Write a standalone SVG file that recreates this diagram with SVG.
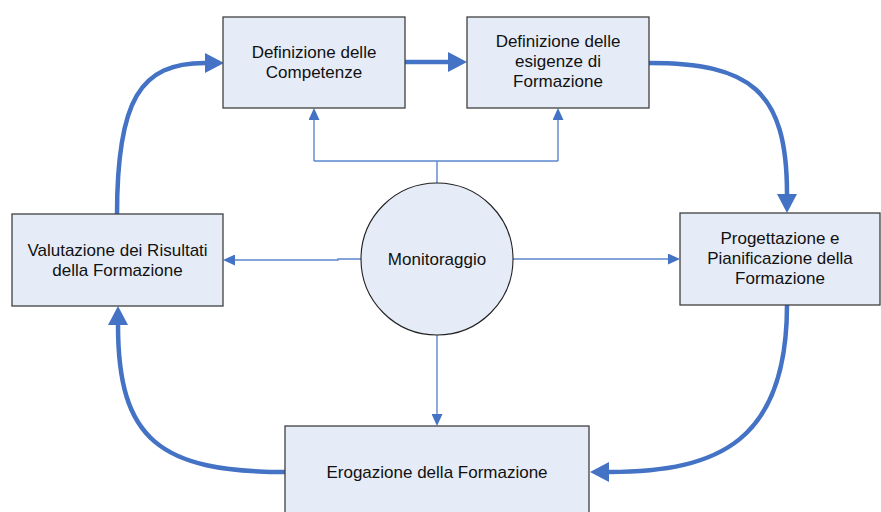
<svg xmlns="http://www.w3.org/2000/svg" width="881" height="512" viewBox="0 0 881 512">
  <defs>
    <style>
      .box { fill: #E6ECF7; stroke: #404040; stroke-width: 1.3; }
      .hub { fill: #E6ECF7; stroke: #202020; stroke-width: 1.1; }
      .lbl { font-family: "Liberation Sans", Arial, sans-serif; font-size: 17px; fill: #111111; text-anchor: middle; }
      .flow { fill: none; stroke: #4472C4; stroke-width: 4.5; }
      .mon { fill: none; stroke: #5B86CC; stroke-width: 1.4; }
    </style>
    <marker id="bigHead" markerUnits="userSpaceOnUse" markerWidth="19" markerHeight="20" viewBox="0 0 19 20" refX="0" refY="10" orient="auto">
      <path d="M0,0 L19,10 L0,20 z" fill="#4472C4"/>
    </marker>
    <marker id="smallHead" markerUnits="userSpaceOnUse" markerWidth="12" markerHeight="11" viewBox="0 0 12 11" refX="0" refY="5.5" orient="auto">
      <path d="M0,0 L12,5.5 L0,11 z" fill="#4472C4"/>
    </marker>
  </defs>

  <rect width="881" height="512" fill="#FFFFFF"/>

  <!-- connectors -->
  <g id="connectors">
    <!-- main cycle -->
    <path class="flow" d="M405,62 L448,62" marker-end="url(#bigHead)"/>
    <path class="flow" d="M649,63 C750,63 787,90 787,194" marker-end="url(#bigHead)"/>
    <path class="flow" d="M787,305 C787,440 720,472 609,472" marker-end="url(#bigHead)"/>
    <path class="flow" d="M286,472 C160,472 118,440 118,325" marker-end="url(#bigHead)"/>
    <path class="flow" d="M117,215 C117,100 140,63 205,63" marker-end="url(#bigHead)"/>
    <!-- monitoring links -->
    <path class="mon" d="M437,183 L437,161 M314,161 L558,161"/>
    <path class="mon" d="M314,161 L314,120" marker-end="url(#smallHead)"/>
    <path class="mon" d="M558,161 L558,120" marker-end="url(#smallHead)"/>
    <path class="mon" d="M361,259 L338,259 L338,260 L235,260" marker-end="url(#smallHead)"/>
    <path class="mon" d="M513,259 L668,259" marker-end="url(#smallHead)"/>
    <path class="mon" d="M437,335 L437,414" marker-end="url(#smallHead)"/>
  </g>

  <!-- nodes -->
  <g id="competenze">
    <rect class="box" x="223" y="17" width="182" height="91"/>
    <text class="lbl" x="314" y="58">Definizione delle</text>
    <text class="lbl" x="314" y="78">Competenze</text>
  </g>

  <g id="esigenze">
    <rect class="box" x="467" y="17" width="182" height="91"/>
    <text class="lbl" x="558" y="47">Definizione delle</text>
    <text class="lbl" x="558" y="67">esigenze di</text>
    <text class="lbl" x="558" y="87">Formazione</text>
  </g>

  <g id="valutazione">
    <rect class="box" x="12" y="214" width="211" height="92"/>
    <text class="lbl" x="117.5" y="256">Valutazione dei Risultati</text>
    <text class="lbl" x="117.5" y="276">della Formazione</text>
  </g>

  <g id="progettazione">
    <rect class="box" x="680" y="213" width="200" height="92"/>
    <text class="lbl" x="780" y="244">Progettazione e</text>
    <text class="lbl" x="780" y="264">Pianificazione della</text>
    <text class="lbl" x="780" y="284">Formazione</text>
  </g>

  <g id="erogazione">
    <rect class="box" x="285" y="426" width="304" height="100"/>
    <text class="lbl" x="437" y="478">Erogazione della Formazione</text>
  </g>

  <g id="monitoraggio">
    <circle class="hub" cx="437" cy="259" r="76"/>
    <text class="lbl" x="437" y="265">Monitoraggio</text>
  </g>
</svg>
